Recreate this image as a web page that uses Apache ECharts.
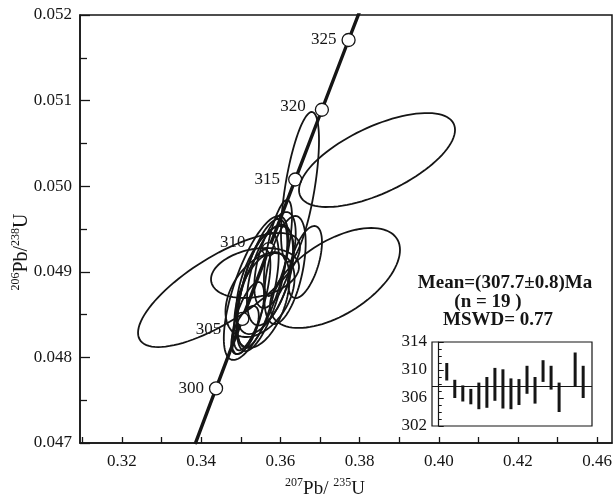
<!DOCTYPE html>
<html lang="en">
<head>
    <meta charset="UTF-8">
    <title>Concordia</title>
    <script src="https://cdn.jsdelivr.net/npm/echarts@6/dist/echarts.min.js"></script>
    <style>
        * { margin: 0; padding: 0; box-sizing: border-box; }
        body { background: #fff; }
        #chart { width: 616px; height: 498px; }
    </style>
</head>
<body>
    <div id="chart"></div>
    <script>
        // concordia curve (207Pb/235U, 206Pb/238U) at given ages (Ma)
        const concordiaAges = [296, 300, 305, 310, 315, 320, 325, 327];
        const concordiaX = [0.33846, 0.34375, 0.35038, 0.35705, 0.36374, 0.37048, 0.37722, 0.37996];
        const concordiaY = [0.046987, 0.047638, 0.048450, 0.049264, 0.050078, 0.050893, 0.051708, 0.052035];
        const markedAges = [300, 305, 310, 315, 320, 325];

        // error ellipses: centre, half extents, correlation
        const ellX   = [0.38440, 0.37379, 0.34450, 0.36495, 0.35359, 0.35384, 0.35535, 0.35434, 0.35611, 0.35737,
                        0.35283, 0.35182, 0.35864, 0.36621, 0.36116, 0.35939, 0.35535, 0.35106, 0.35485];
        const ellY   = [0.050306, 0.048928, 0.048787, 0.049991, 0.048986, 0.048811, 0.048846, 0.048787, 0.048904, 0.048963,
                        0.048671, 0.048460, 0.049138, 0.049114, 0.049021, 0.049278, 0.048671, 0.048320, 0.048729];
        const ellSx  = [0.01970, 0.01641, 0.02045, 0.00480, 0.01111, 0.00813, 0.00639, 0.00523, 0.00726, 0.00581,
                        0.00465, 0.00407, 0.00523, 0.00429, 0.00523, 0.00354, 0.00697, 0.00348, 0.00872];
        const ellSy  = [0.000549, 0.000584, 0.000666, 0.000876, 0.000292, 0.000841, 0.000772, 0.000673, 0.000631, 0.000589,
                        0.000589, 0.000420, 0.000560, 0.000421, 0.000631, 0.000561, 0.000560, 0.000281, 0.000491];
        const ellRho = [0.64, 0.56, 0.75, 0.62, 0.25, 0.70, 0.65, 0.60, 0.55, 0.50,
                        0.70, 0.65, 0.55, 0.55, 0.50, 0.65, 0.45, 0.60, 0.40];

        // axis ticks
        const xTickValues = [0.32, 0.34, 0.36, 0.38, 0.40, 0.42, 0.44];
        const xTickLabels = ['0.32', '0.34', '0.36', '0.38', '0.40', '0.42', '0.46'];
        const xMinorTicks = [0.31, 0.32, 0.33, 0.34, 0.35, 0.36, 0.37, 0.38, 0.39, 0.40, 0.41, 0.42, 0.43, 0.44];

        // weighted mean inset
        const insetX    = [1, 2, 3, 4, 5, 6, 7, 8, 9, 10, 11, 12, 13, 14, 15, 17, 18];
        const insetLow  = [308.5, 306.0, 305.5, 305.1, 304.4, 304.6, 305.6, 304.5, 304.4, 305.0, 306.6, 305.2, 308.3, 307.2, 304.0, 307.7, 306.0];
        const insetHigh = [311.0, 308.6, 307.8, 307.3, 308.2, 309.0, 310.3, 310.1, 308.8, 308.7, 310.6, 309.0, 311.4, 310.6, 308.2, 312.5, 310.6];
        const meanAge = 307.7;

        const serif = '"Liberation Serif", "Times New Roman", serif';
        const ink = '#151515';

        const chart = echarts.init(document.getElementById('chart'));

        const labelOffsets = { 305: [-9, 11], 310: [-11, -7], 320: [-4, -3], 315: [-3, 0] };

        const option = {
            backgroundColor: '#fff',
            animation: false,
            grid: [
                { left: 80, top: 15, right: 4, bottom: 55, show: true, borderColor: ink, borderWidth: 1.5 },
                { left: 432, top: 342, width: 160, height: 84, show: true, borderColor: ink, borderWidth: 1.2 }
            ],
            xAxis: [
                {
                    type: 'value', gridIndex: 0, min: 0.309394, max: 0.44374,
                    axisLine: { lineStyle: { color: ink, width: 1.5 } },
                    axisTick: { inside: true, length: 6, lineStyle: { color: ink, width: 1.3 }, customValues: xMinorTicks },
                    axisLabel: {
                        customValues: xTickValues, margin: 10,
                        fontFamily: serif, fontSize: 17, color: ink,
                        formatter: v => {
                            const i = xTickValues.findIndex(t => Math.abs(t - v) < 1e-6);
                            return i >= 0 ? xTickLabels[i] : '';
                        }
                    },
                    splitLine: { show: false }
                },
                {
                    type: 'value', gridIndex: 1, min: -0.84, max: 19.1, show: false
                }
            ],
            yAxis: [
                {
                    type: 'value', gridIndex: 0, min: 0.047, max: 0.052, interval: 0.001,
                    axisLine: { show: true, lineStyle: { color: ink, width: 1.5 } },
                    axisTick: { inside: true, length: 10, lineStyle: { color: ink, width: 1.3 } },
                    minorTick: { show: true, splitNumber: 2, length: 7, lineStyle: { color: ink, width: 1.3 } },
                    axisLabel: { margin: 8, fontFamily: serif, fontSize: 17, color: ink, formatter: v => v.toFixed(3) },
                    splitLine: { show: false }
                },
                {
                    type: 'value', gridIndex: 1, min: 302, max: 314, interval: 4,
                    axisLine: { show: true, lineStyle: { color: ink, width: 1.2 } },
                    axisTick: { inside: true, length: 5, lineStyle: { color: ink, width: 1 } },
                    minorTick: { show: true, splitNumber: 4, length: 3, lineStyle: { color: ink, width: 1 } },
                    axisLabel: { margin: 5, fontFamily: serif, fontSize: 17, color: ink },
                    splitLine: { show: false }
                }
            ],
            graphic: [
                {
                    type: 'text', x: 325, y: 488,
                    style: {
                        text: '{s|207}{m|Pb/ }{s|235}{m|U}', align: 'center', verticalAlign: 'middle', fill: ink,
                        rich: {
                            m: { fontFamily: serif, fontSize: 19, lineHeight: 22, verticalAlign: 'bottom', fill: ink },
                            s: { fontFamily: serif, fontSize: 12, lineHeight: 22, verticalAlign: 'top', fill: ink }
                        }
                    }
                },
                {
                    type: 'text', x: 21, y: 252, rotation: Math.PI / 2,
                    style: {
                        text: '{s|206}{m|Pb/}{s|238}{m|U}', align: 'center', verticalAlign: 'middle', fill: ink,
                        rich: {
                            m: { fontFamily: serif, fontSize: 20, lineHeight: 22, verticalAlign: 'bottom', fill: ink },
                            s: { fontFamily: serif, fontSize: 12, lineHeight: 22, verticalAlign: 'top', fill: ink }
                        }
                    }
                },
                { type: 'text', x: 505, y: 283, style: { text: 'Mean=(307.7\u00b10.8)Ma', font: 'bold 19px ' + serif, fill: ink, align: 'center', verticalAlign: 'middle' } },
                { type: 'text', x: 488, y: 302, style: { text: '(n = 19 )', font: 'bold 19px ' + serif, fill: ink, align: 'center', verticalAlign: 'middle' } },
                { type: 'text', x: 498, y: 320, style: { text: 'MSWD= 0.77', font: 'bold 19px ' + serif, fill: ink, align: 'center', verticalAlign: 'middle' } }
            ],
            series: [
                {
                    type: 'line', xAxisIndex: 0, yAxisIndex: 0, z: 2,
                    data: concordiaAges.map((a, i) => [concordiaX[i], concordiaY[i]]),
                    showSymbol: false, clip: true,
                    lineStyle: { color: ink, width: 3.4 }
                },
                {
                    type: 'scatter', xAxisIndex: 0, yAxisIndex: 0, z: 3,
                    symbol: 'circle', symbolSize: 13,
                    itemStyle: { color: '#fff', borderColor: ink, borderWidth: 1.3, opacity: 1 },
                    label: { show: true, position: 'left', distance: 5, fontFamily: serif, fontSize: 17, color: ink, formatter: p => p.data.age },
                    data: markedAges.map(a => {
                        const i = concordiaAges.indexOf(a);
                        return { value: [concordiaX[i], concordiaY[i]], age: a, label: { offset: labelOffsets[a] || [0, 0] } };
                    })
                },
                {
                    type: 'custom', xAxisIndex: 0, yAxisIndex: 0, z: 4,
                    data: ellX.map((x, i) => [x, ellY[i], ellSx[i], ellSy[i], ellRho[i]]),
                    encode: { x: 0, y: 1 },
                    renderItem: (params, api) => {
                        const cx = api.value(0), cy = api.value(1), sx = api.value(2), sy = api.value(3), r = api.value(4);
                        const q = Math.sqrt(1 - r * r);
                        const pts = [];
                        for (let k = 0; k < 96; k++) {
                            const t = k / 96 * 2 * Math.PI;
                            pts.push(api.coord([cx + sx * Math.cos(t), cy + sy * (r * Math.cos(t) + q * Math.sin(t))]));
                        }
                        return { type: 'polygon', shape: { points: pts }, style: { fill: 'none', stroke: ink, lineWidth: 1.8 } };
                    }
                },
                {
                    type: 'custom', xAxisIndex: 1, yAxisIndex: 1, z: 4,
                    data: insetX.map((x, i) => [x, insetLow[i], insetHigh[i]]),
                    encode: { x: 0, y: [1, 2] },
                    renderItem: (params, api) => {
                        const lo = api.coord([api.value(0), api.value(1)]);
                        const hi = api.coord([api.value(0), api.value(2)]);
                        return { type: 'rect', shape: { x: lo[0] - 1.5, y: hi[1], width: 3, height: lo[1] - hi[1] }, style: { fill: ink } };
                    }
                },
                {
                    type: 'scatter', xAxisIndex: 1, yAxisIndex: 1, z: 3, symbolSize: 0, silent: true,
                    data: insetX.map((x, i) => [x, (insetLow[i] + insetHigh[i]) / 2]),
                    markLine: {
                        silent: true, symbol: ['none', 'none'], label: { show: false },
                        lineStyle: { color: ink, width: 1.2, type: 'solid' },
                        data: [{ yAxis: meanAge }]
                    }
                }
            ]
        };

        chart.setOption(option);
    </script>
</body>
</html>
